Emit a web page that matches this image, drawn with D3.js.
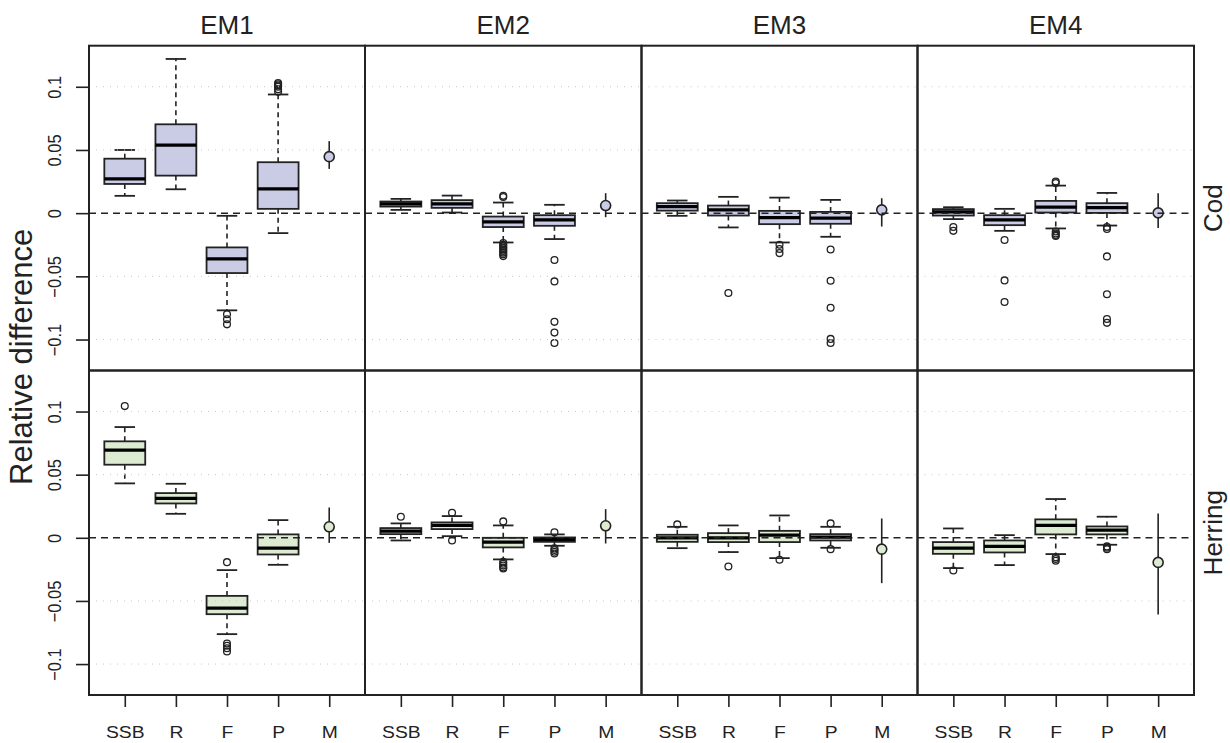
<!DOCTYPE html>
<html><head><meta charset="utf-8">
<script src="https://cdn.jsdelivr.net/npm/d3@7"></script>
<style>body{margin:0;background:#fff}svg{display:block}text{font-family:"Liberation Sans",Arial,sans-serif;fill:#222}</style>
</head><body>
<svg id="chart" width="1230" height="743"></svg>
<script>
// ---------------- DATA ----------------
const models = ["EM1", "EM2", "EM3", "EM4"];
const stocks = ["Cod", "Herring"];
const quantities = ["SSB", "R", "F", "P", "M"];
const yTicks = [-0.1, -0.05, 0, 0.05, 0.1];
const yTickLabels = ["\u22120.1", "\u22120.05", "0", "0.05", "0.1"];

// box stats per model, per quantity (SSB,R,F,P): [lowerWhisker, q1, median, q3, upperWhisker]
const codStats = [
  [[0.0137, 0.0231, 0.0271, 0.0431, 0.050], [0.0189, 0.0297, 0.0539, 0.0703, 0.122], [-0.0769, -0.0474, -0.0361, -0.0271, -0.0021], [-0.0158, 0.0034, 0.0192, 0.0403, 0.0939]],
  [[0.0026, 0.0052, 0.0073, 0.0092, 0.0113], [0.0005, 0.0042, 0.0073, 0.0103, 0.0139], [-0.0232, -0.011, -0.0069, -0.0027, 0.0084], [-0.0205, -0.010, -0.0053, -0.0016, 0.0066]],
  [[-0.0021, 0.002, 0.0052, 0.0079, 0.0100], [-0.0113, -0.0019, 0.0026, 0.006, 0.0129], [-0.0232, -0.0087, -0.0035, 0.0018, 0.0123], [-0.0187, -0.0084, -0.004, 0.001, 0.0105]],
  [[-0.0047, -0.0019, 0.001, 0.0032, 0.0047], [-0.014, -0.0095, -0.0053, -0.0016, 0.0034], [-0.0121, 0.0005, 0.0047, 0.0097, 0.0218], [-0.0098, 0.0002, 0.0044, 0.0079, 0.016]]
];
const codOutliers = [
  [[], [], [-0.080, -0.084, -0.088], [0.096, 0.098, 0.100, 0.101, 0.102, 0.103]],
  [[], [], [0.0137, 0.0128, -0.0237, -0.025, -0.0262, -0.0275, -0.0288, -0.030, -0.0312, -0.0325, -0.034], [-0.0371, -0.054, -0.086, -0.0945, -0.1027]],
  [[], [-0.0632], [-0.025, -0.0284, -0.0316], [-0.0287, -0.0535, -0.0748, -0.0995, -0.1027]],
  [[-0.011, -0.014], [-0.0213, -0.0532, -0.0703], [0.025, 0.0238, -0.0145, -0.016, -0.0172, -0.018], [-0.011, -0.0125, -0.0342, -0.0642, -0.0837, -0.0868]]
];
// M: [low, estimate, high]
const codM = [[0.035, 0.0447, 0.057], [-0.0032, 0.006, 0.0158], [-0.0106, 0.0026, 0.0118], [-0.0118, 0.0002, 0.0158]];

const herringStats = [
  [[0.0431, 0.0579, 0.0695, 0.0764, 0.0877], [0.019, 0.0272, 0.0312, 0.0354, 0.0428], [-0.0763, -0.0605, -0.0557, -0.046, -0.0256], [-0.0214, -0.0132, -0.0082, 0.0027, 0.014]],
  [[-0.0021, 0.0029, 0.0053, 0.0077, 0.0114], [0.0013, 0.0069, 0.0098, 0.0122, 0.0172], [-0.0171, -0.0076, -0.0034, 0.0, 0.0098], [-0.0063, -0.0032, -0.0013, 0.0003, 0.0027]],
  [[-0.0082, -0.0032, 0.0, 0.0024, 0.0087], [-0.0113, -0.0034, 0.0, 0.0037, 0.0098], [-0.0161, -0.0034, 0.0021, 0.0055, 0.0177], [-0.0079, -0.0021, 0.0005, 0.0029, 0.0087]],
  [[-0.024, -0.0127, -0.0082, -0.0034, 0.0074], [-0.0216, -0.0116, -0.0068, -0.0021, 0.0021], [-0.0129, 0.0027, 0.0098, 0.0146, 0.0307], [-0.0055, 0.0027, 0.0061, 0.009, 0.0167]]
];
const herringOutliers = [
  [[0.1043], [], [-0.0193, -0.0837, -0.0855, -0.0875, -0.090], []],
  [[0.0167], [0.0198, -0.0021], [0.013, -0.019, -0.0205, -0.022, -0.0235, -0.0243], [0.0043, -0.0084, -0.0097, -0.011, -0.0124]],
  [[0.0106], [-0.0227], [-0.0174], [0.0114, -0.009]],
  [[-0.0259], [], [-0.0155, -0.0168, -0.0182], [-0.0068, -0.0078, -0.009]]
];
const herringM = [[-0.004, 0.0087, 0.024], [-0.0045, 0.0095, 0.0227], [-0.0359, -0.009, 0.0153], [-0.0607, -0.0195, 0.0193]];

const fills = ["#CACCE6", "#DDEBD3"];

// ---------------- LAYOUT ----------------
const colEdges = [89, 365, 641.5, 917.5, 1194];
const rowEdges = [45.7, 370.5, 695];
const svg = d3.select("#chart");
const ink = "#222";
const FONT = "'Liberation Sans', Arial, sans-serif";

const statsByStock = [codStats, herringStats];
const outByStock = [codOutliers, herringOutliers];
const mByStock = [codM, herringM];

stocks.forEach((stock, r) => {
  const y = d3.scaleLinear().domain([-0.1245, 0.1325]).range([rowEdges[r + 1], rowEdges[r]]);
  models.forEach((model, c) => {
    const x = d3.scaleLinear().domain([0.3, 5.7]).range([colEdges[c], colEdges[c + 1]]);
    const g = svg.append("g");
    const bw = x(1.4) - x(1);   // half box width (0.4 units)
    const cw = x(1.2) - x(1);   // half cap width

    const stats = statsByStock[r][c];
    stats.forEach((s, i) => {
      const cx = x(i + 1);
      const [lo, q1, md, q3, hi] = s;
      g.append("line").attr("x1", cx).attr("x2", cx).attr("y1", y(q3)).attr("y2", y(hi))
        .attr("stroke", ink).attr("stroke-width", 1.6).attr("stroke-dasharray", "5,4");
      g.append("line").attr("x1", cx).attr("x2", cx).attr("y1", y(q1)).attr("y2", y(lo))
        .attr("stroke", ink).attr("stroke-width", 1.6).attr("stroke-dasharray", "5,4");
      [lo, hi].forEach(v => g.append("line").attr("x1", cx - cw).attr("x2", cx + cw)
        .attr("y1", y(v)).attr("y2", y(v)).attr("stroke", ink).attr("stroke-width", 1.8));
      g.append("rect").attr("x", cx - bw).attr("width", 2 * bw)
        .attr("y", y(q3)).attr("height", Math.max(0.5, y(q1) - y(q3)))
        .attr("fill", fills[r]).attr("stroke", ink).attr("stroke-width", 1.8);
      g.append("line").attr("x1", cx - bw).attr("x2", cx + bw).attr("y1", y(md)).attr("y2", y(md))
        .attr("stroke", "#000").attr("stroke-width", 3.2);
      outByStock[r][c][i].forEach(v => g.append("circle").attr("cx", cx).attr("cy", y(v)).attr("r", 3.4)
        .attr("fill", "none").attr("stroke", ink).attr("stroke-width", 1.3));
    });
    const m = mByStock[r][c];
    const mx = x(5);
    g.append("line").attr("x1", mx).attr("x2", mx).attr("y1", y(m[0])).attr("y2", y(m[2]))
      .attr("stroke", ink).attr("stroke-width", 1.6);
    g.append("circle").attr("cx", mx).attr("cy", y(m[1])).attr("r", 5)
      .attr("fill", fills[r]).attr("stroke", ink).attr("stroke-width", 1.6);

    yTicks.filter(t => t !== 0).forEach(t => g.append("line")
      .attr("x1", colEdges[c]).attr("x2", colEdges[c + 1]).attr("y1", y(t)).attr("y2", y(t))
      .attr("stroke", "#c8c8c8").attr("stroke-width", 1).attr("stroke-dasharray", "1,6"));
    g.append("line").attr("x1", colEdges[c]).attr("x2", colEdges[c + 1]).attr("y1", y(0)).attr("y2", y(0))
      .attr("stroke", ink).attr("stroke-width", 1.5).attr("stroke-dasharray", "7,5");

    g.append("rect").attr("x", colEdges[c]).attr("y", rowEdges[r])
      .attr("width", colEdges[c + 1] - colEdges[c]).attr("height", rowEdges[r + 1] - rowEdges[r])
      .attr("fill", "none").attr("stroke", ink).attr("stroke-width", 2);

    if (r === stocks.length - 1) {
      const xa = d3.axisBottom(x).tickValues([1, 2, 3, 4, 5]).tickFormat((d, i) => quantities[i])
        .tickSize(12).tickPadding(19);
      const ag = svg.append("g").attr("transform", `translate(0,${rowEdges[r + 1]})`).call(xa);
      ag.select(".domain").remove();
      ag.selectAll(".tick line").attr("stroke", ink).attr("stroke-width", 1.6);
      ag.selectAll(".tick text").style("font-size", "16.5px").style("fill", ink).style("font-family", FONT)
        .attr("transform", "scale(1.17,1)");
    }
    if (r === 0) {
      svg.append("text").attr("x", (colEdges[c] + colEdges[c + 1]) / 2).attr("y", 34)
        .attr("text-anchor", "middle").style("font-size", "26px").style("font-family", FONT).text(model);
    }
  });
  const ya = d3.axisLeft(y).tickValues(yTicks).tickFormat((d, i) => yTickLabels[i]).tickSize(13).tickPadding(6);
  const yg = svg.append("g").attr("transform", `translate(${colEdges[0]},0)`).call(ya);
  yg.select(".domain").remove();
  yg.selectAll(".tick line").attr("stroke", ink).attr("stroke-width", 1.6);
  yg.selectAll(".tick text").style("font-size", "16.5px").style("fill", ink).style("font-family", FONT)
    .attr("text-anchor", "middle").attr("dy", null).attr("x", null).attr("y", 0)
    .attr("transform", "translate(-28,0) rotate(-90) scale(1,1.13)");
  const cy = (rowEdges[r] + rowEdges[r + 1]) / 2;
  svg.append("text").attr("transform", `translate(1222,${cy}) rotate(-90)`)
    .attr("text-anchor", "middle").style("font-size", "26px").style("font-family", FONT).text(stock);
});

svg.append("text").attr("transform", `translate(32,485) rotate(-90)`)
  .attr("text-anchor", "start").style("font-size", "31px").style("font-family", FONT).text("Relative difference");
</script>
</body></html>
